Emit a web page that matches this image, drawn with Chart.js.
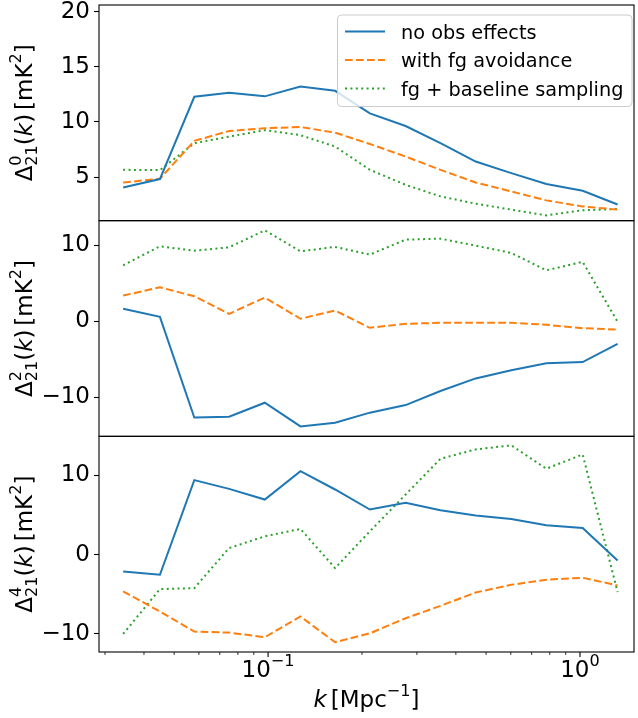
<!DOCTYPE html>
<html>
<head>
<meta charset="utf-8">
<script src="https://cdn.jsdelivr.net/npm/chart.js@4.4.1/dist/chart.umd.min.js"></script>
<style>
  html, body { margin: 0; padding: 0; background: #fff; }
  #wrap { width: 638px; height: 718px; }
</style>
</head>
<body>
<div id="wrap"><canvas id="multipoles" width="638" height="718"></canvas></div>
<script>
// k bins [Mpc^-1]
const kValues = [0.0343, 0.045, 0.058, 0.075, 0.0976, 0.127, 0.164, 0.212, 0.276, 0.357, 0.463, 0.602, 0.780, 1.02, 1.32];

const seriesNames = ['no obs effects', 'with fg avoidance', 'fg + baseline sampling'];

// monopole, l = 0
const noObs0 = [4.06, 4.82, 12.28, 12.64, 12.32, 13.22, 12.82, 10.78, 9.63, 8.07, 6.41, 5.36, 4.37, 3.76, 2.52];
const fgAvoid0 = [4.51, 4.85, 8.28, 9.18, 9.43, 9.54, 9.03, 8.0, 6.86, 5.66, 4.51, 3.7, 2.89, 2.34, 2.05];
const fgBaseline0 = [5.66, 5.63, 8.07, 8.67, 9.25, 8.8, 7.77, 5.66, 4.3, 3.25, 2.59, 2.05, 1.53, 1.99, 2.11];

// quadrupole, l = 2
const noObs2 = [1.63, 0.58, -12.7, -12.58, -10.74, -13.86, -13.37, -12.05, -11.05, -9.2, -7.54, -6.45, -5.53, -5.39, -2.98];
const fgAvoid2 = [3.38, 4.47, 3.29, 0.97, 3.12, 0.32, 1.41, -0.87, -0.34, -0.21, -0.21, -0.21, -0.47, -0.92, -1.09];
const fgBaseline2 = [7.37, 9.87, 9.3, 9.74, 11.97, 9.21, 9.79, 8.78, 10.75, 10.88, 9.96, 9.0, 6.71, 7.82, -0.08];

// hexadecapole, l = 4
const noObs4 = [-2.11, -2.53, 9.41, 8.31, 6.96, 10.55, 8.23, 5.7, 6.54, 5.61, 4.94, 4.51, 3.71, 3.38, -0.72];
const fgAvoid4 = [-4.64, -7.17, -9.7, -9.83, -10.42, -7.8, -11.05, -9.92, -8.02, -6.46, -4.77, -3.8, -3.16, -2.91, -3.88];
const fgBaseline4 = [-10.0, -4.34, -4.22, 0.84, 2.32, 3.25, -1.69, 2.95, 7.59, 12.11, 13.29, 13.8, 10.85, 12.66, -4.72];

const yTicks0 = [5, 10, 15, 20];
const yTicks2 = [-10, 0, 10];
const yTicks4 = [-10, 0, 10];
const multipoles = ['0', '2', '4'];

const FONT = 'DejaVu Sans';
const AXIS_FS = 23;
const colors = ['#1f77b4', '#ff7f0e', '#2ca02c'];
const dashes = [[], [7.7, 3.3], [2, 3.4]];

function fontStr(size, italic) {
  return (italic ? 'italic ' : '') + size + 'px "' + FONT + '"';
}

// pieces: {t, it} plain run, {sp} gap in em, {sup, sub} script stack
function pieceWidth(ctx, p, size) {
  if (p.sp) return p.sp * size;
  if (p.t) { ctx.font = fontStr(size, p.it); return ctx.measureText(p.t).width; }
  ctx.font = fontStr(size * 0.7);
  return Math.max(p.sup ? ctx.measureText(p.sup).width : 0, p.sub ? ctx.measureText(p.sub).width : 0);
}
function richWidth(ctx, pieces, size) {
  return pieces.reduce((w, p) => w + pieceWidth(ctx, p, size), 0);
}
function drawRich(ctx, pieces, x, y, size) {
  ctx.textAlign = 'left';
  ctx.textBaseline = 'alphabetic';
  for (const p of pieces) {
    const w = pieceWidth(ctx, p, size);
    if (p.t) {
      ctx.font = fontStr(size, p.it);
      ctx.fillText(p.t, x, y);
    } else if (!p.sp) {
      ctx.font = fontStr(size * 0.7);
      if (p.sup) ctx.fillText(p.sup, x, y - size * 0.5);
      if (p.sub) ctx.fillText(p.sub, x, y + size * 0.22);
    }
    x += w;
  }
}

const fmt = v => (v < 0 ? '\u2212' + Math.abs(v) : String(v));

function makeSet(label, values, idx, axis) {
  return {
    label: label,
    data: kValues.map((k, i) => ({ x: k, y: values[i] })),
    yAxisID: axis,
    borderColor: colors[idx],
    borderDash: dashes[idx],
    borderWidth: 2,
    borderCapStyle: 'butt',
    pointRadius: 0,
    tension: 0,
    fill: false
  };
}

function panelScale(min, max, tickVals, weight) {
  return {
    type: 'linear',
    position: 'left',
    stack: 'panels',
    stackWeight: 1,
    weight: weight,
    min: min,
    max: max,
    afterBuildTicks: s => { s.ticks = tickVals.map(v => ({ value: v })); },
    afterFit: s => { s.width = 99; s.paddingTop = 0; s.paddingBottom = 0; },
    ticks: { font: { family: FONT, size: AXIS_FS }, color: '#000', padding: 4, callback: v => fmt(v) },
    grid: { drawOnChartArea: false, drawTicks: true, tickLength: 5, tickWidth: 1.1, tickColor: '#000' },
    border: { display: false }
  };
}

const decor = {
  id: 'decor',
  afterDraw(chart) {
    const ctx = chart.ctx;
    const area = chart.chartArea;
    const xs = chart.scales.x;
    const panels = ['y0', 'y2', 'y4'].map(id => chart.scales[id]);
    ctx.save();

    // panel frames
    ctx.strokeStyle = '#000';
    ctx.lineWidth = 1.1;
    panels.forEach(s => ctx.strokeRect(area.left, s.top, area.right - area.left, s.bottom - s.top));

    // y labels
    ctx.fillStyle = '#000';
    panels.forEach((s, i) => {
      const pieces = [{ t: '\u0394' }, { sup: multipoles[i], sub: '21' }, { t: '(' }, { t: 'k', it: true }, { t: ')' },
        { sp: 0.17 }, { t: '[mK' }, { sup: '2' }, { t: ']' }];
      const w = richWidth(ctx, pieces, AXIS_FS);
      ctx.save();
      ctx.translate(32, (s.top + s.bottom) / 2);
      ctx.rotate(-Math.PI / 2);
      drawRich(ctx, pieces, -w / 2, 0, AXIS_FS);
      ctx.restore();
    });

    // log x ticks along the bottom panel
    for (let p = -2; p <= 0; p++) {
      for (let m = 1; m <= 9; m++) {
        const v = m * Math.pow(10, p);
        if (v < xs.min || v > xs.max) continue;
        const px = xs.getPixelForValue(v);
        ctx.lineWidth = m === 1 ? 1.1 : 0.8;
        ctx.beginPath();
        ctx.moveTo(px, area.bottom);
        ctx.lineTo(px, area.bottom + (m === 1 ? 5 : 3));
        ctx.stroke();
        if (m === 1) {
          const pieces = [{ t: '10' }, { sup: p === 0 ? '0' : '\u2212' + Math.abs(p) }];
          const w = richWidth(ctx, pieces, AXIS_FS);
          drawRich(ctx, pieces, px - w / 2, area.bottom + 25, AXIS_FS);
        }
      }
    }
    const xt = [{ t: 'k', it: true }, { sp: 0.17 }, { t: '[Mpc' }, { sup: '\u22121' }, { t: ']' }];
    const xw = richWidth(ctx, xt, AXIS_FS);
    drawRich(ctx, xt, (area.left + area.right) / 2 - xw / 2, area.bottom + 55, AXIS_FS);

    // legend in the top panel
    const lx = 337.5, ly = 15, lw = 294.5, lh = 91.5;
    ctx.beginPath();
    ctx.roundRect(lx, ly, lw, lh, 4);
    ctx.fillStyle = 'rgba(255,255,255,0.8)';
    ctx.fill();
    ctx.strokeStyle = '#cccccc';
    ctx.lineWidth = 1;
    ctx.stroke();
    seriesNames.forEach((name, i) => {
      const ry = 31.5 + i * 28.5;
      ctx.strokeStyle = colors[i];
      ctx.lineWidth = 2;
      ctx.setLineDash(dashes[i]);
      ctx.beginPath();
      ctx.moveTo(345, ry);
      ctx.lineTo(385, ry);
      ctx.stroke();
      ctx.setLineDash([]);
      ctx.fillStyle = '#000';
      ctx.font = fontStr(19.3);
      ctx.textAlign = 'left';
      ctx.textBaseline = 'alphabetic';
      ctx.fillText(name, 401, ry + 7.3);
    });
    ctx.restore();
  }
};

new Chart(document.getElementById('multipoles'), {
  type: 'line',
  data: {
    datasets: [
      makeSet(seriesNames[0], noObs0, 0, 'y0'),
      makeSet(seriesNames[1], fgAvoid0, 1, 'y0'),
      makeSet(seriesNames[2], fgBaseline0, 2, 'y0'),
      makeSet(seriesNames[0], noObs2, 0, 'y2'),
      makeSet(seriesNames[1], fgAvoid2, 1, 'y2'),
      makeSet(seriesNames[2], fgBaseline2, 2, 'y2'),
      makeSet(seriesNames[0], noObs4, 0, 'y4'),
      makeSet(seriesNames[1], fgAvoid4, 1, 'y4'),
      makeSet(seriesNames[2], fgBaseline4, 2, 'y4')
    ]
  },
  options: {
    responsive: false,
    animation: false,
    devicePixelRatio: 1,
    layout: { padding: { top: 5, right: 4, bottom: 0, left: 0 } },
    plugins: { legend: { display: false }, tooltip: { enabled: false } },
    scales: {
      x: {
        type: 'logarithmic',
        min: 0.0287,
        max: 1.49,
        ticks: { display: false },
        grid: { display: false },
        border: { display: false },
        afterFit: s => { s.height = 66; s.paddingLeft = 0; s.paddingRight = 0; }
      },
      y0: panelScale(1.05, 20.6, yTicks0, 3),
      y2: panelScale(-15.17, 13.25, yTicks2, 2),
      y4: panelScale(-12.28, 14.94, yTicks4, 1)
    }
  },
  plugins: [decor]
});
</script>
</body>
</html>
